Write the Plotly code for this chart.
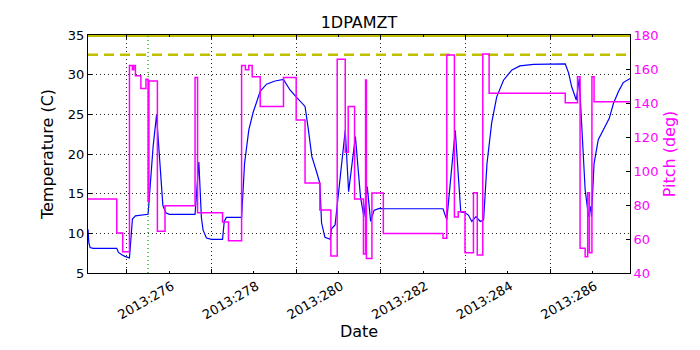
import plotly.graph_objects as go

# Data (x in day-of-year 2013)
temp_t = [275.08, 275.10, 275.13, 275.20, 275.76, 275.80, 275.88, 275.95, 276.06, 276.09,
          276.13, 276.20, 276.50, 276.55, 276.62, 276.70, 276.78, 276.85, 276.92, 277.00,
          277.61, 277.70, 277.76, 277.80, 277.88, 278.00, 278.26, 278.30, 278.35, 278.71,
          278.78, 278.88, 278.98, 279.15, 279.30, 279.50, 279.70, 279.85, 280.00, 280.21,
          280.29, 280.37, 280.49, 280.56, 280.60, 280.68, 280.80, 280.84, 280.92, 281.16,
          281.24, 281.40, 281.52, 281.60, 281.68, 281.76, 281.84, 281.96, 282.10, 283.47,
          283.56, 283.76, 283.89, 283.99, 284.07, 284.15, 284.25, 284.35, 284.43, 284.51,
          284.62, 284.74, 284.90, 285.10, 285.29, 285.61, 286.36, 286.44, 286.51, 286.62,
          286.69, 286.75, 286.83, 286.91, 286.96, 286.98, 287.04, 287.14, 287.30, 287.40,
          287.50, 287.62, 287.73, 287.89]
temp_v = [10.5, 8.8, 8.2, 8.1, 8.1, 7.6, 7.3, 7.1, 6.9, 9.5,
          11.8, 12.2, 12.4, 16.0, 21.0, 24.9, 18.0, 13.5, 12.6, 12.4,
          12.4, 19.0, 12.0, 10.4, 9.4, 9.25, 9.25, 11.5, 12.0, 12.0,
          18.8, 23.0, 25.2, 27.9, 28.8, 29.2, 29.4, 28.1, 27.2, 26.0,
          23.0, 19.7, 17.6, 16.3, 11.3, 9.5, 9.25, 10.6, 11.05, 23.0,
          15.25, 22.2, 14.6, 12.1, 15.9, 11.5, 12.9, 13.15, 13.1, 13.1,
          11.7, 23.0, 12.7, 12.6, 12.3, 11.5, 12.1, 11.5, 11.7, 18.8,
          23.9, 27.2, 29.3, 30.6, 31.1, 31.3, 31.35, 30.2, 28.5, 26.8,
          29.5, 23.0, 15.5, 12.1, 13.4, 12.1, 18.8, 21.8, 23.4, 24.5,
          26.4, 27.9, 29.0, 29.5]

pitch_t = [275.08, 275.76, 275.90, 276.06, 276.13, 276.16, 276.20, 276.33, 276.45, 276.50,
           276.52, 276.72, 276.90, 277.61, 277.67, 278.26, 278.40, 278.71, 278.80, 278.88,
           278.96, 279.15, 279.70, 280.00, 280.21, 280.56, 280.82, 280.97, 281.16, 281.23,
           281.38, 281.59, 281.64, 281.66, 281.79, 282.06, 283.47, 283.56, 283.74, 283.83,
           283.99, 284.19, 284.28, 284.41, 284.56, 286.36, 286.65, 286.71, 286.83, 286.89,
           286.93, 286.99, 287.04, 287.89]
pitch_v = [83.5, 63.5, 52.5, 162, 159.5, 162, 156, 148.5, 154, 82,
           153, 64.5, 79.5, 155, 75.5, 70, 59, 162, 159.5, 162,
           155.5, 138, 155, 130, 93, 77, 50, 165.7, 111, 138,
           83.5, 51.2, 153.5, 48.6, 87, 63.3, 60.4, 168.2, 73, 76,
           51.9, 87.2, 50.6, 168.8, 145.7, 140.2, 155.5, 54.5, 49.6, 87.2,
           51.9, 155.5, 140.8, 140.8]

planning_limit = 32.5
upper_limit = 35.0
marker_time = 276.5

tick_days = [276, 278, 280, 282, 284, 286]
tick_labels = ["2013:%d" % d for d in tick_days]
minor_days = [275, 277, 279, 281, 283, 285, 287]

x_range = [temp_t[0], temp_t[-1]]

fig = go.Figure()

fig.add_trace(go.Scatter(x=temp_t, y=temp_v, mode="lines",
                         line=dict(color="#0000ff", width=1.2), yaxis="y"))
fig.add_trace(go.Scatter(x=x_range, y=[planning_limit] * 2, mode="lines",
                         line=dict(color="#bfbf00", width=2.5, dash="10px,6px"), yaxis="y"))
fig.add_trace(go.Scatter(x=x_range, y=[upper_limit] * 2, mode="lines",
                         line=dict(color="#bfbf00", width=4), yaxis="y"))
fig.add_trace(go.Scatter(x=[marker_time] * 2, y=[5, 35], mode="lines",
                         line=dict(color="#00a000", width=1.2, dash="1px,3px"), yaxis="y"))
fig.add_trace(go.Scatter(x=pitch_t, y=pitch_v, mode="lines", line_shape="hv",
                         line=dict(color="#ff00ff", width=1.5), yaxis="y2"))

# page body has an 8px margin, so the plot is offset by (8, 8) in the window
fig.update_layout(
    width=700, height=350,
    margin=dict(l=80, r=78, t=27, b=85),
    paper_bgcolor="white", plot_bgcolor="white",
    showlegend=False,
    font=dict(family="DejaVu Sans", size=13, color="black"),
    title=dict(text="1DPAMZT", x=(80 + 271) / 700, xanchor="center", y=0.96, yanchor="middle",
               font=dict(size=16)),
    xaxis=dict(
        range=x_range, tickmode="array", tickvals=tick_days, ticktext=tick_labels,
        tickangle=-30, ticks="inside", ticklen=4, tickcolor="black",
        ticklabelshift=45, ticklabelstandoff=0,
        showline=True, linecolor="black", linewidth=1, mirror="ticks",
        showgrid=True, gridcolor="#222222", griddash="1px,3px", gridwidth=1,
        zeroline=False, automargin=False,
        minor=dict(tickmode="array", tickvals=minor_days, ticks="inside", ticklen=2,
                   tickcolor="black", showgrid=False),
        title=dict(text="Date", standoff=4),
    ),
    yaxis=dict(
        range=[5, 35], tickmode="linear", tick0=5, dtick=5,
        ticks="inside", ticklen=4, tickcolor="black",
        showline=True, linecolor="black", linewidth=1, mirror=True,
        showgrid=True, gridcolor="#222222", griddash="1px,3px", gridwidth=1,
        zeroline=False, automargin=False,
        title=dict(text="Temperature (C)", standoff=10),
    ),
    yaxis2=dict(
        range=[40, 180], tickmode="linear", tick0=40, dtick=20,
        overlaying="y", side="right",
        ticks="inside", ticklen=4, tickcolor="black",
        tickfont=dict(color="#ff00ff"),
        showline=True, linecolor="black", linewidth=1,
        showgrid=False, zeroline=False, automargin=False,
        title=dict(text="Pitch (deg)", font=dict(color="#ff00ff"), standoff=6),
    ),
)

fig.write_html("out.html")
